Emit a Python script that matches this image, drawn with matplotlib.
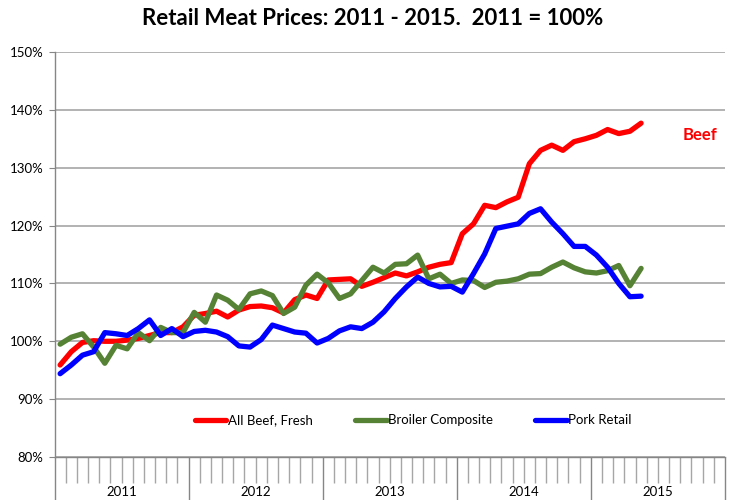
import matplotlib
matplotlib.use('Agg')
import matplotlib.pyplot as plt
import matplotlib.transforms as mtransforms
import numpy as np

# Monthly indices, Jan 2011 .. May 2015 (2011 = 100%)
years = ['2011', '2012', '2013', '2014', '2015']

beef = [95.9, 98.2, 99.8, 100.1, 100.0, 100.0, 100.2, 100.5, 101.0, 101.5, 101.5, 102.5,
        104.5, 104.8, 105.2, 104.2, 105.4, 106.0, 106.1, 105.8, 104.9, 107.2, 108.0, 107.4,
        110.6, 110.7, 110.8, 109.5, 110.2, 111.0, 111.8, 111.3, 112.0, 112.8, 113.3, 113.6,
        118.6, 120.3, 123.5, 123.1, 124.1, 124.9, 130.7, 133.0, 133.9, 133.0, 134.5, 135.0,
        135.6, 136.6, 135.9, 136.3, 137.7]

broiler = [99.5, 100.7, 101.3, 99.0, 96.2, 99.3, 98.7, 101.5, 100.1, 102.4, 101.5, 101.5,
           105.0, 103.3, 108.0, 107.1, 105.5, 108.2, 108.7, 107.9, 104.8, 105.9, 109.7, 111.6,
           110.1, 107.4, 108.2, 110.5, 112.8, 111.8, 113.3, 113.4, 114.9, 110.8, 111.6, 110.0,
           110.6, 110.5, 109.3, 110.2, 110.4, 110.8, 111.6, 111.7, 112.8, 113.7, 112.7, 112.0,
           111.8, 112.2, 113.1, 109.6, 112.6]

pork = [94.4, 95.9, 97.6, 98.2, 101.5, 101.3, 101.0, 102.2, 103.7, 101.0, 102.2, 100.8,
        101.7, 101.9, 101.6, 100.8, 99.2, 99.0, 100.3, 102.8, 102.2, 101.6, 101.4, 99.7,
        100.5, 101.8, 102.5, 102.2, 103.3, 105.1, 107.4, 109.4, 111.1, 110.0, 109.4, 109.5,
        108.5, 111.7, 115.1, 119.5, 119.9, 120.3, 122.1, 122.9, 120.6, 118.6, 116.4, 116.4,
        114.9, 112.8, 110.0, 107.7, 107.8]

RED = '#ff0000'
GREEN = '#558234'
BLUE = '#0000ff'
GRID = '#a6a6a6'

plt.rcParams['font.family'] = ['Lato', 'DejaVu Sans']

fig = plt.figure(figsize=(7.3, 5.0), dpi=100)
ax = fig.add_axes([0.0747, 0.086, 0.9183, 0.81])

x = np.arange(len(beef)) + 0.5
ax.plot(x, beef, color=RED, lw=3.8, label='All Beef, Fresh', solid_capstyle='round', zorder=3)
ax.plot(x, broiler, color=GREEN, lw=3.8, label='Broiler Composite', solid_capstyle='round', zorder=3)
ax.plot(x, pork, color=BLUE, lw=3.8, label='Pork Retail', solid_capstyle='round', zorder=3)

ax.set_xlim(0, 60)
ax.set_ylim(80, 150)
ax.set_yticks(np.arange(80, 151, 10))
ax.set_yticklabels(['%d%%' % v for v in range(80, 151, 10)], fontsize=9.5)
ax.yaxis.grid(True, color=GRID, lw=1.2)
ax.set_axisbelow(True)

for s in ['top', 'right']:
    ax.spines[s].set_visible(False)
for s in ['left', 'bottom']:
    ax.spines[s].set_color('#868686')
    ax.spines[s].set_linewidth(1.0)

ax.tick_params(axis='y', length=4, color='#868686', pad=4)

# month ticks and year separators
ax.set_xticks(np.arange(0, 61, 12))
ax.set_xticks(np.arange(0, 61, 1), minor=True)
ax.set_xticklabels([])
ax.tick_params(axis='x', which='major', length=31, color='#868686', width=1.0)
ax.tick_params(axis='x', which='minor', length=19, color='#a6a6a6', width=1.0)

trans = mtransforms.blended_transform_factory(ax.transData, fig.transFigure)
for i, yr in enumerate(years):
    ax.text(i * 12 + 6, 0.016, yr, transform=trans, ha='center', va='center', fontsize=9.5)

ax.legend(loc='center', bbox_to_anchor=(0.535, 0.091), ncol=3, frameon=False,
          fontsize=9.5, handlelength=2.4, handletextpad=0.1, columnspacing=3.2)

ax.text(57.8, 135.6, 'Beef', color=RED, fontsize=12, fontweight='bold', ha='center', va='center')

fig.suptitle('Retail Meat Prices: 2011 - 2015.  2011 = 100%', fontsize=16, fontweight='bold',
             x=0.51, y=0.963, va='center')

fig.savefig('out.png', dpi=100)
